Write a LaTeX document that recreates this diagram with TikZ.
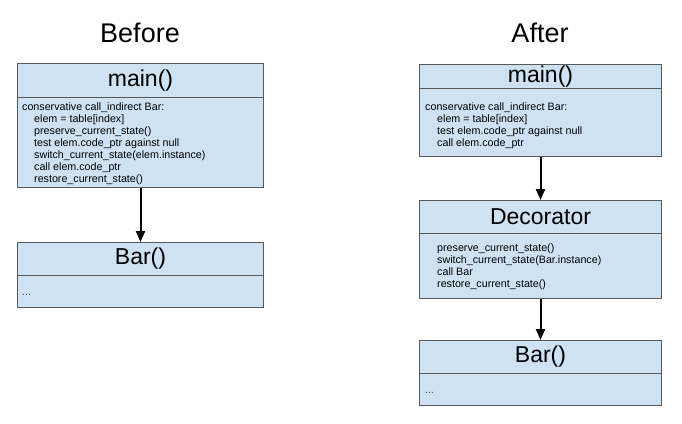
\documentclass[tikz,border=0pt]{standalone}
\usepackage{fontspec}
\setmainfont{Liberation Sans}
\usetikzlibrary{arrows.meta}
\definecolor{boxfill}{HTML}{CFE2F3}
\definecolor{boxline}{HTML}{595959}
\begin{document}
\begin{tikzpicture}[x=1pt,y=-1pt,
  hdr/.style={draw=boxline, fill=boxfill, line width=1pt, anchor=north west, inner sep=0pt, font=\fontsize{23}{23}\selectfont},
  bodybox/.style={draw=boxline, fill=boxfill, line width=1pt, anchor=north west, inner sep=0pt},
  code/.style={anchor=north west, inner sep=0pt, align=left, font=\fontsize{10.7}{12}\selectfont},
  dots/.style={anchor=base west, inner sep=0pt, text=black!70, font=\fontsize{10.7}{12}\selectfont},
  ttl/.style={font=\fontsize{27}{27}\selectfont},
  conn/.style={line width=2pt, -{Triangle[length=11pt,width=9pt]}}]
\useasboundingbox (0,0) rectangle (682,423);

% Titles
\node[ttl] (tbefore) at (140,33) {Before};
\node[ttl] (tafter) at (540,33) {After};

% ---- Before ----
\node[hdr, minimum width=246pt, minimum height=34pt] (lmainh) at (17,63) {main()};
\node[bodybox, minimum width=246pt, minimum height=90pt] (lmainb) at (17,97) {};
\node[code] (lmaint) at (22,103) {conservative call\_indirect Bar:\\
\hspace*{12pt}elem = table[index]\\
\hspace*{12pt}preserve\_current\_state()\\
\hspace*{12pt}test elem.code\_ptr against null\\
\hspace*{12pt}switch\_current\_state(elem.instance)\\
\hspace*{12pt}call elem.code\_ptr\\
\hspace*{12pt}restore\_current\_state()};

\node[hdr, minimum width=246pt, minimum height=33pt] (lbarh) at (17,242) {Bar()};
\node[bodybox, minimum width=246pt, minimum height=32pt] (lbarb) at (17,275) {};
\node[dots] (lbart) at (22,295.5) {...};

\draw[conn] (lmainb.south) -- (lbarh.north);

% ---- After ----
\node[hdr, minimum width=242pt, minimum height=24pt] (rmainh) at (419,64) {main()};
\node[bodybox, minimum width=242pt, minimum height=68pt] (rmainb) at (419,88) {};
\node[code] (rmaint) at (425,103) {conservative call\_indirect Bar:\\
\hspace*{12pt}elem = table[index]\\
\hspace*{12pt}test elem.code\_ptr against null\\
\hspace*{12pt}call elem.code\_ptr};

\node[hdr, minimum width=242pt, minimum height=33pt] (dech) at (419,200) {Decorator};
\node[bodybox, minimum width=242pt, minimum height=65pt] (decb) at (419,233) {};
\node[code] (dect) at (437,243.5) {preserve\_current\_state()\\
switch\_current\_state(Bar.instance)\\
call Bar\\
restore\_current\_state()};

\node[hdr, minimum width=242pt, minimum height=33pt] (rbarh) at (419,340) {Bar()};
\node[bodybox, minimum width=242pt, minimum height=32pt] (rbarb) at (419,373) {};
\node[dots] (rbart) at (425,393) {...};

\draw[conn] (rmainb.south) -- (dech.north);
\draw[conn] (decb.south) -- (rbarh.north);
\end{tikzpicture}
\end{document}
